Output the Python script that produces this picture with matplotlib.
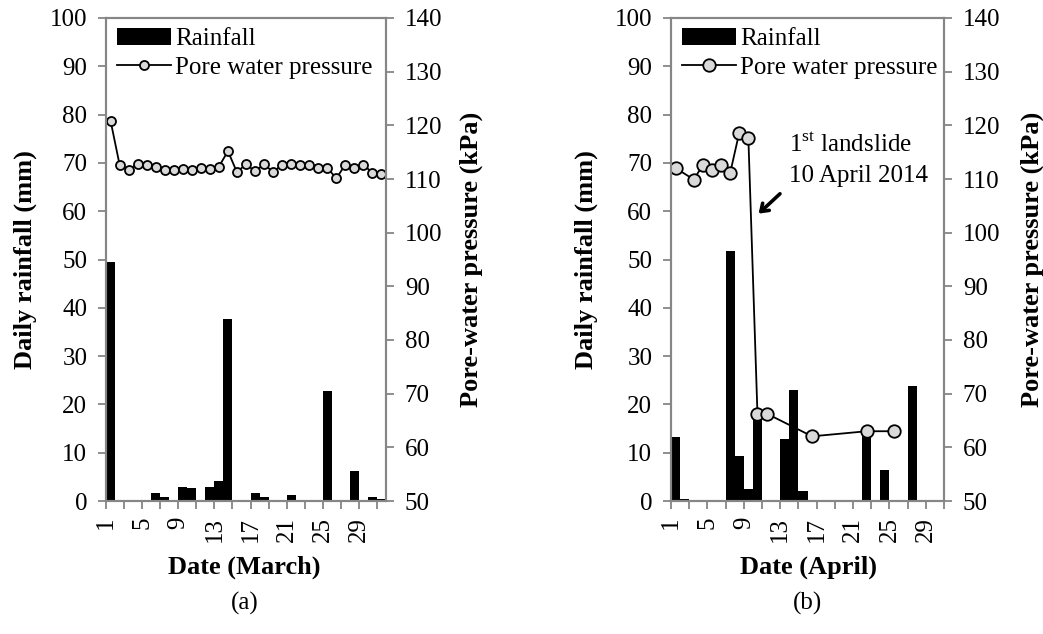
import matplotlib

matplotlib.use("Agg")

import matplotlib.pyplot as plt
import numpy as np

plt.rcParams["font.family"] = ["Liberation Serif", "DejaVu Serif"]
plt.rcParams["mathtext.fontset"] = "custom"
plt.rcParams["mathtext.rm"] = "Liberation Serif"

# March
march_rain_days = [1, 6, 7, 9, 10, 12, 13, 14, 17, 18, 21, 25, 28, 30, 31]
march_rain = [49.5, 1.7, 0.9, 3.0, 2.6, 3.0, 4.2, 37.6, 1.7, 0.9, 1.3, 22.8, 6.3, 0.9, 0.5]
march_pwp_days = list(range(1, 32))
march_pwp = [120.9, 112.7, 111.75, 112.8, 112.7, 112.3, 111.75, 111.75, 111.9, 111.75,
             112.0, 111.9, 112.3, 115.2, 111.25, 112.8, 111.4, 112.8, 111.25, 112.7,
             112.8, 112.7, 112.6, 112.1, 112.1, 110.1, 112.7, 112.1, 112.7, 111.1, 111.0]

# April
april_rain_days = [1, 2, 7, 8, 9, 10, 13, 14, 15, 22, 24, 27]
april_rain = [13.3, 0.4, 51.7, 9.3, 2.4, 18.3, 12.9, 23.0, 2.1, 14.2, 6.5, 23.8]
april_pwp_days = [1, 3, 4, 5, 6, 7, 8, 9, 10, 11, 16, 22, 25]
april_pwp = [112.05, 109.9, 112.6, 111.75, 112.6, 111.1, 118.65, 117.7, 66.3, 66.3, 62.05, 63.0, 63.0]

date_labels = [1, 5, 9, 13, 17, 21, 25, 29]

GREY = "#868686"
FS = 18
FS_LAB = 19


def draw_panel(fig, rect, n_days, rain_days, rain, pwp_days, pwp, month, msize):
    ax = fig.add_axes(rect)
    ax2 = ax.twinx()
    ax.set_zorder(ax2.get_zorder() - 1)
    ax.patch.set_visible(False)

    ax.bar(rain_days, rain, width=1.0, align="edge", color="black", label="Rainfall")
    ax2.plot(np.array(pwp_days) + 0.5, pwp, color="black", lw=1.3, marker="o",
             ms=msize, mfc="#d9d9d9", mec="black", mew=1.3, label="Pore water pressure")

    ax.set_xlim(1, n_days + 1)
    ax.set_ylim(0, 100)
    ax2.set_ylim(50, 140)
    ax.set_yticks(np.arange(0, 101, 10))
    ax2.set_yticks(np.arange(50, 141, 10))
    ticks = np.arange(1, n_days + 2, 2)
    ax.set_xticks(ticks)
    ax.set_xticklabels([str(t) if t in date_labels else "" for t in ticks], rotation=90)

    for a in (ax, ax2):
        for s in a.spines.values():
            s.set_color(GREY)
            s.set_linewidth(1.5)
        a.tick_params(colors=GREY, labelcolor="black", labelsize=FS, length=5.5, width=1.3,
                      direction="out", pad=8)
    ax.tick_params(axis="x", pad=6)

    ax.set_ylabel("Daily rainfall (mm)", fontsize=FS_LAB, fontweight="bold")
    ax2.set_ylabel("Pore-water pressure (kPa)", fontsize=FS_LAB, fontweight="bold")
    ax.set_xlabel("Date (%s)" % month, fontsize=FS_LAB, fontweight="bold")

    h1, l1 = ax.get_legend_handles_labels()
    h2, l2 = ax2.get_legend_handles_labels()
    ax2.legend(h1 + h2, l1 + l2, loc="upper left", bbox_to_anchor=(0.005, 1.0), frameon=False,
               fontsize=FS, handlelength=2.16, handletextpad=0.16, labelspacing=0.25,
               borderaxespad=0.0, borderpad=0.38)
    return ax, ax2


fig = plt.figure(figsize=(10.43, 6.34), dpi=100)

axa, axa2 = draw_panel(fig, [106 / 1043, 1 - 501 / 634, 280 / 1043, 483 / 634], 31,
                       march_rain_days, march_rain, march_pwp_days, march_pwp, "March", 6.5)
axb, axb2 = draw_panel(fig, [671 / 1043, 1 - 501 / 634, 273 / 1043, 483 / 634], 30,
                       april_rain_days, april_rain, april_pwp_days, april_pwp, "April", 9)

axa.yaxis.set_label_coords(-0.246, 0.5)
axa2.yaxis.set_label_coords(1.262, 0.5)
axa.xaxis.set_label_coords(0.493, -0.112)
axb.yaxis.set_label_coords(-0.268, 0.5)
axb2.yaxis.set_label_coords(1.28, 0.5)
axb.xaxis.set_label_coords(0.505, -0.112)

axb.annotate("", xy=(10.4, 59.1), xytext=(13.2, 64.0),
             arrowprops=dict(arrowstyle="->,head_length=0.5,head_width=0.35", lw=2.6, color="black"))
axb.text(14.0, 73.8, r"1$^{\rm st}$ landslide", fontsize=FS, va="center", ha="left")
axb.text(14.0, 67.3, "10 April 2014", fontsize=FS, va="center", ha="left")

fig.text(245 / 1043, 1 - 603 / 634, "(a)", fontsize=FS, ha="center", va="center")
fig.text(807 / 1043, 1 - 603 / 634, "(b)", fontsize=FS, ha="center", va="center")

fig.savefig("out.png", dpi=100)
plt.close(fig)
